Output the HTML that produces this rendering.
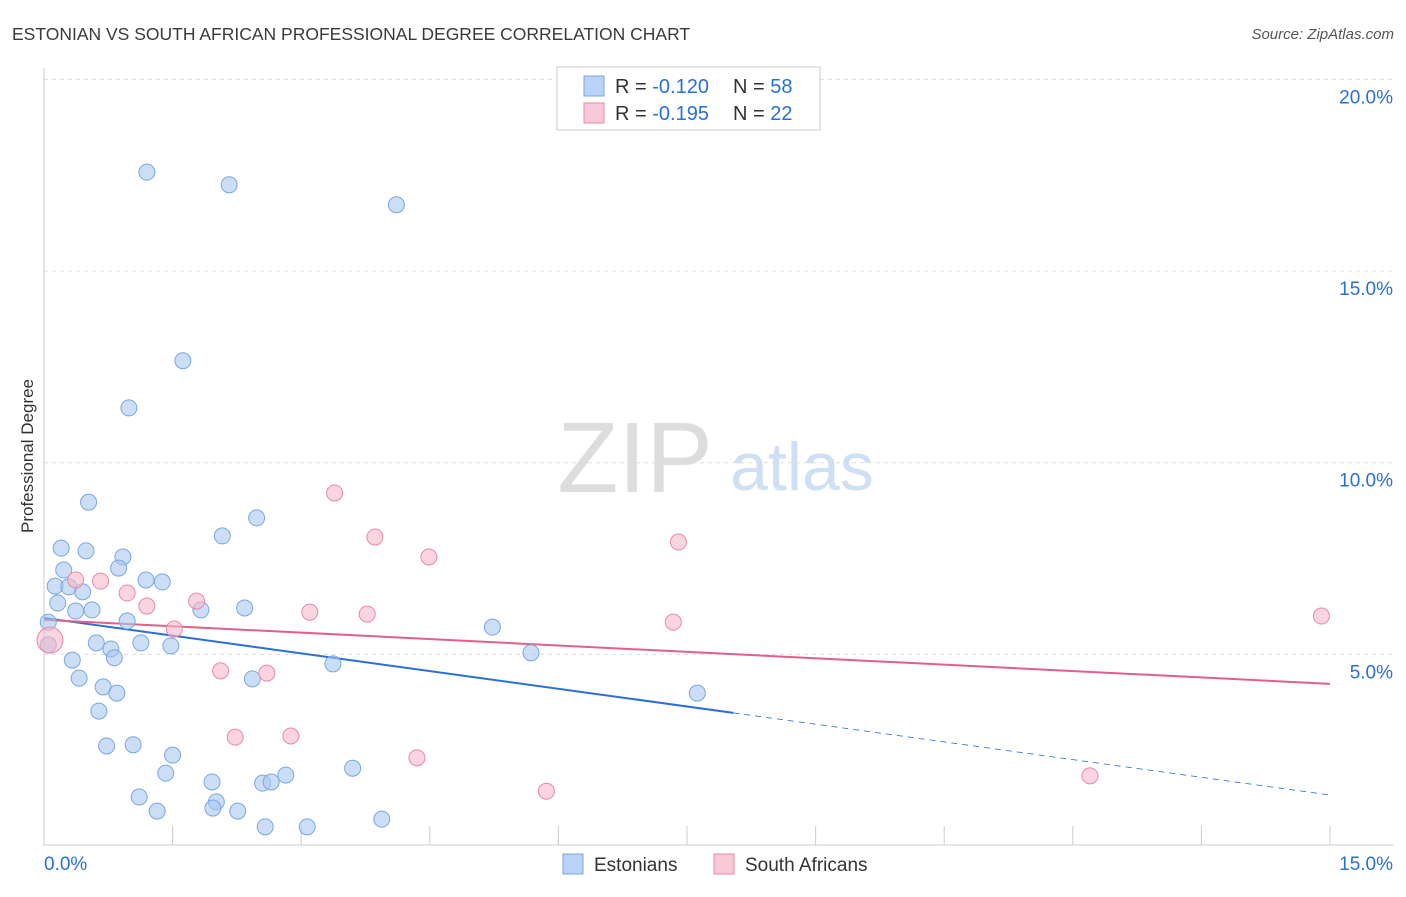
<!DOCTYPE html>
<html><head><meta charset="utf-8"><style>
body{margin:0;background:#fff;font-family:"Liberation Sans",sans-serif;}
svg text{font-family:"Liberation Sans",sans-serif;}
</style></head><body>
<svg id="chart" width="1406" height="892">
<text x="12" y="40" font-size="17.5" fill="#3a3a3a">ESTONIAN VS SOUTH AFRICAN PROFESSIONAL DEGREE CORRELATION CHART</text>
<text x="1394" y="39" font-size="15" fill="#555" font-style="italic" text-anchor="end">Source: ZipAtlas.com</text>
<text x="33" y="456" font-size="17" fill="#333" text-anchor="middle" transform="rotate(-90 33 456)">Professional Degree</text>
<g>
<text x="635" y="492" font-size="100" fill="#ddd" font-family="Liberation Serif" text-anchor="middle">ZIP</text>
<text x="802" y="490" font-size="68" fill="#cfe0f4" text-anchor="middle">atlas</text>
</g>
<g id="grid"></g><g id="axes"></g><g id="trends"></g><g id="points"></g>
<g>
<rect x="557" y="67" width="263" height="63" fill="#fff" stroke="#ccc"/>
<rect x="584" y="76" width="20" height="20" fill="#b8d3f5" stroke="#7aa7e0"/>
<rect x="584" y="103" width="20" height="20" fill="#f9c8d6" stroke="#e88aa8"/>
<text x="615" y="93" font-size="20" fill="#333">R = <tspan fill="#2a6fd6">-0.120</tspan></text>
<text x="733" y="93" font-size="20" fill="#333">N = <tspan fill="#2a6fd6">58</tspan></text>
<text x="615" y="120" font-size="20" fill="#333">R = <tspan fill="#2a6fd6">-0.195</tspan></text>
<text x="733" y="120" font-size="20" fill="#333">N = <tspan fill="#2a6fd6">22</tspan></text>
</g>
<g>
<rect x="563" y="854" width="20" height="20" fill="#b8d3f5" stroke="#7aa7e0"/>
<text x="594" y="871" font-size="19" fill="#333">Estonians</text>
<rect x="714" y="854" width="20" height="20" fill="#f9c8d6" stroke="#e88aa8"/>
<text x="745" y="871" font-size="19" fill="#333">South Africans</text>
</g>
</svg>
<script>
const yTicks=[5,10,15,20];
const yTickLabels=["5.0%","10.0%","15.0%","20.0%"];
const xTickLabels=["0.0%","15.0%"];
const blueX=[1.20,2.16,4.11,1.62,0.99,0.52,2.48,2.08,0.20,0.49,0.92,0.87,0.23,1.19,1.38,0.13,0.29,0.45,0.16,0.37,0.56,1.83,2.34,0.97,0.05,5.23,0.61,0.78,1.13,1.48,0.05,0.82,0.33,3.37,5.68,0.41,2.43,0.69,0.85,7.62,0.64,0.73,1.04,1.50,1.42,3.60,1.96,2.82,2.55,2.65,1.11,2.01,1.97,1.32,2.26,3.94,2.58,3.07];
const blueY=[17.58,17.25,16.73,12.66,11.43,8.97,8.56,8.09,7.77,7.70,7.54,7.25,7.20,6.94,6.89,6.78,6.76,6.63,6.34,6.13,6.16,6.16,6.21,5.87,5.84,5.71,5.30,5.14,5.30,5.22,5.25,4.91,4.85,4.75,5.04,4.38,4.36,4.15,3.99,3.99,3.52,2.61,2.64,2.37,1.90,2.03,1.67,1.85,1.64,1.67,1.28,1.15,0.99,0.91,0.91,0.70,0.50,0.50];
const pinkX=[3.39,3.86,4.49,7.40,0.37,0.66,0.97,1.20,1.78,3.10,3.77,1.52,7.34,14.90,2.06,2.60,2.23,2.88,4.35,5.86,12.20,0.07];
const pinkY=[9.21,8.06,7.54,7.93,6.94,6.91,6.60,6.26,6.39,6.10,6.05,5.66,5.84,6.00,4.57,4.51,2.84,2.87,2.30,1.43,1.83,5.37];
const blueTrend=[5.95,1.33], blueSolidEnd=8.04;
const pinkTrend=[5.90,4.23];
const NS="http://www.w3.org/2000/svg";
const X=v=>44+v*(1286/15), Y=v=>846-v*38.33;
function mk(p,t,a){const e=document.createElementNS(NS,t);for(const k in a)e.setAttribute(k,a[k]);p.appendChild(e);return e;}
const grid=document.getElementById('grid'),axes=document.getElementById('axes');
yTicks.forEach((t,i)=>{
 const l=mk(grid,'line',{x1:44,x2:1393,y1:Y(t),y2:Y(t),stroke:'#ddd','stroke-dasharray':'4,4'});
 
 
 const tx=mk(axes,'text',{x:1393,y:Y(t)+24,'font-size':19,fill:'#2a6fd6','text-anchor':'end'});
 tx.textContent=yTickLabels[i];
 
 
});
mk(axes,'line',{x1:44,x2:44,y1:68,y2:846,stroke:'#ccc'});
mk(axes,'line',{x1:44,x2:1393,y1:845,y2:845,stroke:'#ccc'});
for(let i=0;i<=10;i++){const x=X(i*1.5);mk(axes,'line',{x1:x,x2:x,y1:826,y2:845,stroke:'#ccc'});}
const xl0=mk(axes,'text',{x:44,y:870,'font-size':19,fill:'#2a6fd6'});xl0.textContent=xTickLabels[0];


const xl1=mk(axes,'text',{x:1393,y:870,'font-size':19,fill:'#2a6fd6','text-anchor':'end'});xl1.textContent=xTickLabels[1];


const tr=document.getElementById('trends');
const by=x=>blueTrend[0]+(blueTrend[1]-blueTrend[0])*x/15;
const py=x=>pinkTrend[0]+(pinkTrend[1]-pinkTrend[0])*x/15;
const pts=document.getElementById('points');
blueX.forEach((x,i)=>{const c=mk(pts,'circle',{cx:X(x),cy:Y(blueY[i]),r:8,fill:'rgba(169,200,240,0.6)',stroke:'#7aa7e0','stroke-width':1});

});
pinkX.forEach((x,i)=>{const c=mk(pts,'circle',{cx:X(x),cy:Y(pinkY[i]),r:i==pinkX.length-1?13:8,fill:'rgba(246,184,202,0.6)',stroke:'#e88aa8','stroke-width':1});

});
const b1=mk(tr,'line',{x1:X(0),y1:Y(by(0)),x2:X(blueSolidEnd),y2:Y(by(blueSolidEnd)),stroke:'#2a6fd6','stroke-width':2});


const b2=mk(tr,'line',{x1:X(blueSolidEnd),y1:Y(by(blueSolidEnd)),x2:X(15),y2:Y(by(15)),stroke:'#2a6fd6','stroke-width':0.8,'stroke-dasharray':'6,5'});


const p1=mk(tr,'line',{x1:X(0),y1:Y(py(0)),x2:X(15),y2:Y(py(15)),stroke:'#e0608a','stroke-width':2});


</script>
</body></html>
